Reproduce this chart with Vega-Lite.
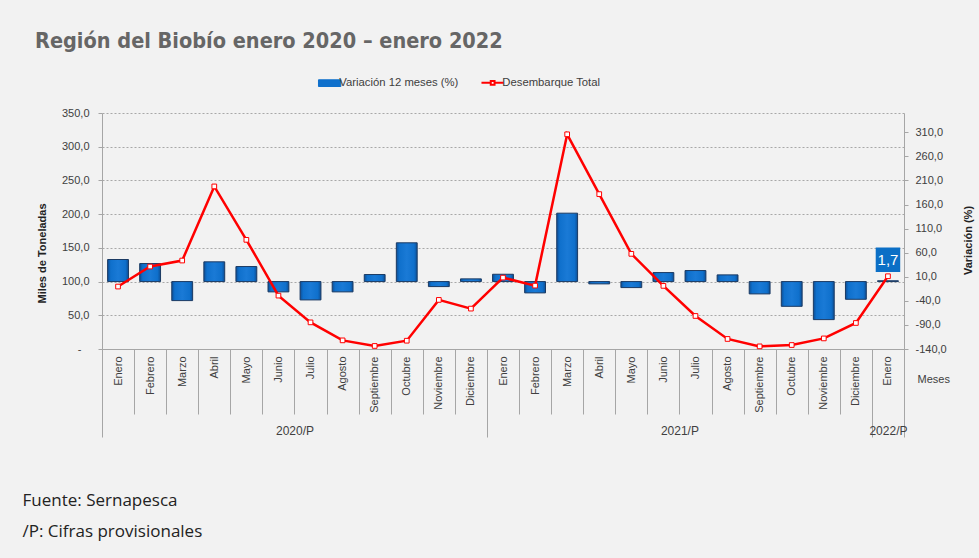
{
  "$schema": "https://vega.github.io/schema/vega-lite/v6.json",
  "width": 802,
  "height": 236,
  "autosize": {"type": "none"},
  "padding": {"left": 102, "top": 113, "right": 75, "bottom": 209},
  "background": "#f2f2f2",
  "config": {
    "view": {"stroke": null},
    "font": "Liberation Sans",
    "locale": {"number": {"decimal": ",", "thousands": ".", "grouping": [3], "currency": ["$", ""], "minus": "-"}}
  },
  "title": {
    "text": "Región del Biobío  enero 2020 – enero  2022",
    "anchor": "start",
    "frame": "group",
    "dx": -67,
    "offset": 25,
    "font": "Liberation Sans Narrow, DejaVu Sans Condensed",
    "fontSize": 21.5,
    "fontWeight": "bold",
    "color": "#666666"
  },
  "datasets": {
    "meses": [
      {"mes": "Enero 2020", "variacion": 45.8, "desembarque": 92.6},
      {"mes": "Febrero 2020", "variacion": 37.4, "desembarque": 122.3},
      {"mes": "Marzo 2020", "variacion": -39.5, "desembarque": 131.2},
      {"mes": "Abril 2020", "variacion": 41.0, "desembarque": 241.1},
      {"mes": "Mayo 2020", "variacion": 31.2, "desembarque": 161.9},
      {"mes": "Junio 2020", "variacion": -21.4, "desembarque": 79.2},
      {"mes": "Julio 2020", "variacion": -38.1, "desembarque": 39.5},
      {"mes": "Agosto 2020", "variacion": -21.4, "desembarque": 12.8},
      {"mes": "Septiembre 2020", "variacion": 14.6, "desembarque": 4.5},
      {"mes": "Octubre 2020", "variacion": 80.5, "desembarque": 12.3},
      {"mes": "Noviembre 2020", "variacion": -10.4, "desembarque": 72.8},
      {"mes": "Diciembre 2020", "variacion": 5.6, "desembarque": 59.9},
      {"mes": "Enero 2021", "variacion": 15.2, "desembarque": 105.9},
      {"mes": "Febrero 2021", "variacion": -23.5, "desembarque": 94.0},
      {"mes": "Marzo 2021", "variacion": 142.0, "desembarque": 318.4},
      {"mes": "Abril 2021", "variacion": -4.8, "desembarque": 229.7},
      {"mes": "Mayo 2021", "variacion": -12.5, "desembarque": 141.1},
      {"mes": "Junio 2021", "variacion": 18.7, "desembarque": 93.6},
      {"mes": "Julio 2021", "variacion": 22.9, "desembarque": 49.0},
      {"mes": "Agosto 2021", "variacion": 13.9, "desembarque": 14.9},
      {"mes": "Septiembre 2021", "variacion": -25.6, "desembarque": 3.9},
      {"mes": "Octubre 2021", "variacion": -51.4, "desembarque": 5.9},
      {"mes": "Noviembre 2021", "variacion": -79.0, "desembarque": 15.7},
      {"mes": "Diciembre 2021", "variacion": -36.8, "desembarque": 38.6},
      {"mes": "Enero 2022", "variacion": 1.7, "desembarque": 107.9}
    ],
    "anios": [{"pos": 0}, {"pos": 25}]
  },
  "layer": [
    {
      "data": {"name": "meses"},
      "mark": {
        "type": "bar",
        "width": {"band": 0.65},
        "fill": {
          "gradient": "linear", "x1": 0, "y1": 0, "x2": 1, "y2": 0,
          "stops": [
            {"offset": 0, "color": "#0d4f96"},
            {"offset": 0.15, "color": "#0f70cc"},
            {"offset": 0.5, "color": "#1a7ad6"},
            {"offset": 0.85, "color": "#0f70cc"},
            {"offset": 1, "color": "#0d4f96"}
          ]
        },
        "stroke": "#1b3a63",
        "strokeWidth": 1
      },
      "encoding": {
        "x": {
          "field": "mes",
          "type": "nominal",
          "sort": null,
          "scale": {"paddingInner": 0, "paddingOuter": 0},
          "axis": {
            "orient": "bottom",
            "labelExpr": "isString(datum.value) ? split(datum.value, ' ')[0] : ''",
            "labelAngle": 270,
            "labelAlign": "right",
            "labelBaseline": "middle",
            "labelPadding": -58,
            "labelOverlap": false,
            "labelFontSize": 11,
            "labelColor": "#404040",
            "tickBand": "extent",
            "tickSize": 65,
            "tickColor": "#a6a6a6",
            "domainColor": "#a6a6a6",
            "grid": false,
            "title": "Meses",
            "titleX": 815,
            "titleY": 30,
            "titleAngle": 0,
            "titleAlign": "left",
            "titleBaseline": "middle",
            "titleFontSize": 11,
            "titleFontWeight": "normal",
            "titleColor": "#404040"
          }
        },
        "y": {
          "field": "variacion",
          "type": "quantitative",
          "scale": {"domain": [-140, 350], "nice": false},
          "axis": {
            "orient": "right",
            "values": [-140, -90, -40, 10, 60, 110, 160, 210, 260, 310],
            "format": ".1f",
            "grid": false,
            "tickSize": 4,
            "tickColor": "#a6a6a6",
            "domainColor": "#a6a6a6",
            "labelPadding": 7,
            "labelFontSize": 11,
            "labelColor": "#404040",
            "title": "Variación  (%)",
            "titleFontSize": 11,
            "titleFontWeight": "bold",
            "titleColor": "#222222",
            "titleAngle": 270,
            "titleX": 64,
            "titleY": 127,
            "titleBaseline": "middle",
            "titleAlign": "center"
          }
        }
      }
    },
    {
      "data": {"name": "meses"},
      "mark": {"type": "line", "strokeWidth": 2.5},
      "encoding": {
        "x": {"field": "mes", "type": "nominal", "sort": null, "scale": {"paddingInner": 0, "paddingOuter": 0}, "axis": null},
        "y": {
          "field": "desembarque",
          "type": "quantitative",
          "scale": {"domain": [0, 350], "nice": false},
          "axis": {
            "orient": "left",
            "values": [0, 50, 100, 150, 200, 250, 300, 350],
            "format": ".1f",
            "labelExpr": "datum.value == 0 ? '-' : datum.label",
            "grid": true,
            "gridDash": [2, 2],
            "gridColor": "#a8a8a8",
            "tickSize": 4,
            "tickColor": "#a6a6a6",
            "domainColor": "#a6a6a6",
            "labelPadding": {"condition": {"test": "datum.value == 0", "value": 17}, "value": 9},
            "labelFontSize": 11,
            "labelColor": "#404040",
            "title": "Miles de Toneladas",
            "titleFontSize": 11,
            "titleFontWeight": "bold",
            "titleColor": "#222222",
            "titleAngle": 270,
            "titleX": -60,
            "titleY": 140,
            "titleBaseline": "middle",
            "titleAlign": "center"
          }
        },
        "color": {
          "datum": "Desembarque Total",
          "scale": {"domain": ["Variación 12 meses (%)", "Desembarque Total"], "range": ["#0f70cc", "#ff0000"]},
          "legend": {
            "orient": "none",
            "legendX": 222,
            "legendY": -36,
            "direction": "horizontal",
            "title": null,
            "labelFontSize": 11.3,
            "labelColor": "#404040",
            "labelOffset": 4,
            "columnPadding": 18,
            "symbolSize": 500,
            "encode": {
              "symbols": {
                "update": {
                  "shape": {"signal": "datum.value == 'Desembarque Total' ? 'M-1,0H-0.17M0.17,0H1M-0.17,-0.17H0.17V0.17H-0.17Z' : 'M-1,-0.3H1V0.3H-1Z'"},
                  "fill": {"signal": "datum.value == 'Desembarque Total' ? '#ffffff' : '#0f70cc'"},
                  "stroke": {"signal": "datum.value == 'Desembarque Total' ? '#ff0000' : '#1b3a63'"},
                  "strokeWidth": {"signal": "datum.value == 'Desembarque Total' ? 2 : 1"},
                  "opacity": {"value": 1},
                  "fillOpacity": {"value": 1}
                }
              }
            }
          }
        }
      }
    },
    {
      "data": {"name": "meses"},
      "mark": {"type": "point", "shape": "square", "size": 22, "filled": true, "fill": "#ffffff", "stroke": "#ff0000", "strokeWidth": 1, "opacity": 1},
      "encoding": {
        "x": {"field": "mes", "type": "nominal", "sort": null, "scale": {"paddingInner": 0, "paddingOuter": 0}, "axis": null},
        "y": {"field": "desembarque", "type": "quantitative", "scale": {"domain": [0, 350], "nice": false}, "axis": null}
      }
    },
    {
      "data": {"name": "meses"},
      "mark": {"type": "point", "shape": "square", "size": 600, "filled": true, "fill": "#0b6fc6", "yOffset": -21},
      "encoding": {
        "x": {"field": "mes", "type": "nominal", "sort": null, "scale": {"paddingInner": 0, "paddingOuter": 0}, "axis": null},
        "y": {"field": "variacion", "type": "quantitative", "scale": {"domain": [-140, 350], "nice": false}, "axis": null},
        "opacity": {"condition": {"test": "datum.mes == 'Enero 2022'", "value": 1}, "value": 0}
      }
    },
    {
      "data": {"name": "meses"},
      "mark": {"type": "text", "color": "white", "fontSize": 15, "yOffset": -21, "baseline": "middle", "align": "center"},
      "encoding": {
        "x": {"field": "mes", "type": "nominal", "sort": null, "scale": {"paddingInner": 0, "paddingOuter": 0}, "axis": null},
        "y": {"field": "variacion", "type": "quantitative", "scale": {"domain": [-140, 350], "nice": false}, "axis": null},
        "text": {"condition": {"test": "datum.mes == 'Enero 2022'", "field": "variacion", "type": "quantitative", "format": ".1f"}, "value": ""}
      }
    },
    {
      "data": {"name": "anios"},
      "mark": {"type": "point", "opacity": 0},
      "encoding": {
        "x": {
          "field": "pos",
          "type": "quantitative",
          "scale": {"domain": [0, 25], "nice": false, "zero": false},
          "axis": {
            "orient": "bottom",
            "values": [0, 6, 12, 18, 24, 24.5, 25],
            "domain": false,
            "grid": false,
            "tickSize": {"condition": {"test": "datum.value == 0 || datum.value == 12 || datum.value == 24 || datum.value == 25", "value": 88}, "value": 0},
            "tickColor": "#a6a6a6",
            "labelExpr": "datum.value == 6 ? '2020/P' : datum.value == 18 ? '2021/P' : datum.value == 24.5 ? '2022/P' : ''",
            "labelPadding": 76,
            "labelFlush": false,
            "labelOverlap": false,
            "labelBound": false,
            "labelFontSize": 12,
            "labelColor": "#404040",
            "title": ["Fuente: Sernapesca", "/P: Cifras provisionales"],
            "titleX": -80,
            "titleY": 156,
            "titleAlign": "left",
            "titleBaseline": "alphabetic",
            "titleAngle": 0,
            "titleFont": "Open Sans",
            "titleFontSize": 17,
            "titleFontWeight": "normal",
            "titleColor": "#222222",
            "titleLineHeight": 31
          }
        }
      }
    }
  ],
  "resolve": {"scale": {"x": "independent", "y": "independent"}}
}
